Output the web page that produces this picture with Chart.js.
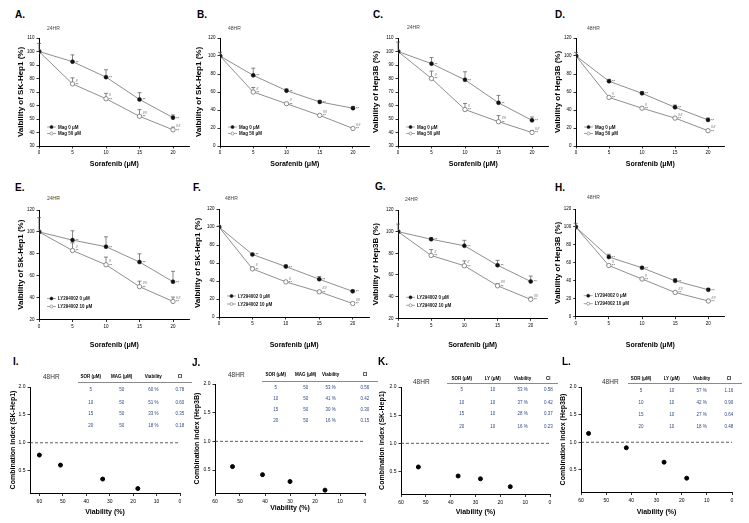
<!DOCTYPE html>
<html>
<head>
<meta charset="utf-8">
<script src="https://cdn.jsdelivr.net/npm/chart.js@4.4.0/dist/chart.umd.min.js"></script>
<style>
html, body { margin: 0; padding: 0; background: #fff; }
#fig { position: relative; width: 749px; height: 523px; overflow: hidden; font-family: "Liberation Sans", Arial, sans-serif; }
#fig canvas { position: absolute; }
.lbl { position: absolute; white-space: nowrap; }
.rule { position: absolute; height: 0.8px; background: #8a8a8a; }
</style>
</head>
<body>
<div id="fig"></div>
<script>
// Sorafenib-Dosen (x-Achse der Linienplots)
const doses = [0, 5, 10, 15, 20];
const doseTicks = [0, 5, 10, 15, 20];
const magNames = ['Mag 0 μM', 'Mag 50 μM'];
const lyNames = ['LY294002 0 μM', 'LY294002 10 μM'];
const sigMarks = ['', '#', '#', '##', '##'];

// A: SK-Hep1 24HR, Magnolol
const mag0A = [100, 92.5, 81, 64.5, 51];
const mag50A = [100, 76, 65, 52, 42];
const err0A = [6, 5, 5.5, 5, 2];
const err50A = [0, 4.5, 4, 5, 2];
// B: SK-Hep1 48HR
const mag0B = [100, 78.5, 61.5, 49, 42];
const mag50B = [100, 60, 47, 34, 19.5];
const err0B = [4, 8, 2, 1.5, 2];
const err50B = [0, 5, 1, 1, 1];
// C: Hep3B 24HR
const mag0C = [100, 91, 79, 62, 49];
const mag50C = [100, 80, 57, 48, 40];
const err0C = [7, 4.5, 6, 5.5, 2.5];
const err50C = [0, 5.5, 4.5, 4.5, 1.5];
// D: Hep3B 48HR
const mag0D = [100, 72, 58.5, 43, 29];
const mag50D = [100, 54, 42, 31, 17];
const err0D = [4, 2, 2, 2.5, 2];
const err50D = [0, 1, 1, 1, 1];
// E: SK-Hep1 24HR, LY294002
const ly0E = [100, 92.5, 86.5, 72.5, 54.5];
const ly10E = [100, 83, 70, 50, 36.5];
const err0E = [13, 8.5, 9, 7.5, 9.5];
const err10E = [0, 7, 7, 5, 4];
// F: SK-Hep1 48HR
const ly0F = [100, 69.5, 56, 42, 28.5];
const ly10F = [100, 53.5, 39, 28, 15];
const err0F = [1, 1, 2, 3, 1.5];
const err10F = [0, 2, 1, 1, 1];
// G: Hep3B 24HR
const ly0G = [100, 93, 87, 69, 54];
const ly10G = [100, 78, 68.5, 50, 37.5];
const err0G = [7, 1.5, 5, 4.5, 5];
const err10G = [0, 5.5, 4.5, 2, 2];
// H: Hep3B 48HR
const ly0H = [100, 66.5, 54.5, 40, 30];
const ly10H = [100, 57, 42, 27, 17.5];
const err0H = [4, 3, 1, 2.5, 1.5];
const err10H = [0, 1, 1, 1, 1];

// I-L: Combination index
const sorDose = [5, 10, 15, 20];
const magDose = [50, 50, 50, 50];
const lyDose = [10, 10, 10, 10];
const viabI = [60, 51, 33, 18];
const ciI = [0.78, 0.60, 0.35, 0.18];
const viabJ = [53, 41, 30, 16];
const ciJ = [0.56, 0.42, 0.30, 0.15];
const viabK = [53, 37, 28, 16];
const ciK = [0.58, 0.42, 0.37, 0.23];
const viabL = [57, 42, 27, 18];
const ciL = [1.16, 0.90, 0.64, 0.35];
const ciTextL = ['1.16', '0.90', '0.64', '0.48'];
const viabTicks = [60, 50, 40, 30, 20, 10, 0];
const ciTicks = [0.5, 1.0, 1.5, 2.0];
const ciThreshold = 1.0;

Chart.defaults.font.family = '"Liberation Sans", Arial, sans-serif';
Chart.defaults.color = '#000';

const fig = document.getElementById('fig');

function addText(txt, x, cy, size, o = {}) {
    const d = document.createElement('div');
    d.className = 'lbl';
    d.textContent = txt;
    d.style.left = x + 'px';
    d.style.top = (cy - size * 0.6) + 'px';
    d.style.fontSize = size + 'px';
    d.style.lineHeight = (size * 1.2) + 'px';
    if (o.bold) d.style.fontWeight = 'bold';
    d.style.color = o.color || '#000';
    if (o.center) d.style.transform = 'translateX(-50%)';
    fig.appendChild(d);
}

function addRule(x1, x2, y) {
    const d = document.createElement('div');
    d.className = 'rule';
    d.style.left = x1 + 'px';
    d.style.width = (x2 - x1) + 'px';
    d.style.top = y + 'px';
    fig.appendChild(d);
}

// Canvas und Padding so wählen, dass die Plotfläche an der gewünschten Stelle liegt
function layoutFor(area, yTitleX, yFont, xTitleY, xFont) {
    const yLh = yFont * 1.2, xLh = xFont * 1.2;
    const box = { x: Math.floor(yTitleX - yLh / 2 - 2), y: area.t - 8 };
    box.w = Math.ceil(area.r + 8 - box.x);
    box.h = Math.ceil(xTitleY + xLh / 2 + 3 - box.y);
    const padding = {
        left: yTitleX - yLh / 2 - box.x,
        top: area.t - box.y,
        right: box.x + box.w - area.r,
        bottom: box.y + box.h - (xTitleY + xLh / 2)
    };
    return { box, padding, yW: area.l - box.x - padding.left, xH: xTitleY + xLh / 2 - area.b };
}

function makeCanvas(box) {
    const c = document.createElement('canvas');
    c.width = box.w;
    c.height = box.h;
    c.style.left = box.x + 'px';
    c.style.top = box.y + 'px';
    c.style.width = box.w + 'px';
    c.style.height = box.h + 'px';
    fig.appendChild(c);
    return c;
}

function axis(fontSize, tickLen, pad) {
    return {
        grid: { display: true, drawOnChartArea: false, drawTicks: true, tickLength: tickLen, color: '#000', lineWidth: 0.8 },
        border: { display: true, color: '#000', width: 1 },
        ticks: { color: '#000', font: { size: fontSize }, padding: pad }
    };
}

// Fehlerbalken (nur nach oben)
const errPlugin = {
    id: 'errBars',
    beforeDatasetsDraw(chart) {
        const ctx = chart.ctx, ys = chart.scales.y;
        ctx.save();
        ctx.strokeStyle = '#555';
        ctx.lineWidth = 0.7;
        chart.data.datasets.forEach((ds, k) => {
            chart.getDatasetMeta(k).data.forEach((pt, i) => {
                const e = ds.err[i];
                if (!e) return;
                const top = ys.getPixelForValue(ds.data[i].y + e);
                ctx.beginPath();
                ctx.moveTo(pt.x, pt.y);
                ctx.lineTo(pt.x, top);
                ctx.moveTo(pt.x - 2, top);
                ctx.lineTo(pt.x + 2, top);
                ctx.stroke();
            });
        });
        ctx.restore();
    }
};

// Signifikanz-Markierungen ** und #
const notePlugin = {
    id: 'sigNotes',
    afterDatasetsDraw(chart) {
        const ctx = chart.ctx;
        ctx.save();
        ctx.fillStyle = '#333';
        ctx.font = '4px "Liberation Sans"';
        ctx.textBaseline = 'middle';
        chart.data.datasets.forEach((ds, k) => {
            chart.getDatasetMeta(k).data.forEach((pt, i) => {
                if (doses[i] === 0) return;
                ctx.fillText('**', pt.x + 3, pt.y + 0.8);
                if (k === 1) ctx.fillText(sigMarks[i], pt.x + 3, pt.y - 3.5);
            });
        });
        ctx.restore();
    }
};

function legendPlugin(offs) {
    return {
        id: 'inLegend',
        afterDraw(chart) {
            const ctx = chart.ctx, a = chart.chartArea;
            ctx.save();
            chart.data.datasets.forEach((ds, k) => {
                const y = a.bottom + offs[k], x = a.left + 8;
                ctx.strokeStyle = ds.borderColor;
                ctx.lineWidth = 0.8;
                ctx.beginPath();
                ctx.moveTo(x, y);
                ctx.lineTo(x + 9, y);
                ctx.stroke();
                ctx.beginPath();
                ctx.arc(x + 4.5, y, 1.5, 0, Math.PI * 2);
                ctx.fillStyle = ds.pointBackgroundColor;
                ctx.fill();
                ctx.strokeStyle = ds.pointBorderColor;
                ctx.lineWidth = 0.6;
                ctx.stroke();
                ctx.fillStyle = '#111';
                ctx.font = 'bold 4.5px "Liberation Sans"';
                ctx.textBaseline = 'middle';
                ctx.fillText(ds.label, x + 11, y + 0.3);
            });
            ctx.restore();
        }
    };
}

function lineChart(p) {
    const L = layoutFor(p.area, p.yTitleX, 8, p.xTitleY, 7);
    const cv = makeCanvas(L.box);
    const series = [[p.s0, p.e0], [p.s1, p.e1]];
    const sets = series.map(([s, e], k) => ({
        label: p.names[k],
        data: doses.map((d, i) => ({ x: d, y: s[i] })),
        err: e,
        borderColor: '#8f8f8f',
        borderWidth: 1,
        pointRadius: k ? 2.2 : 2,
        pointBackgroundColor: k ? '#fff' : '#111',
        pointBorderColor: k ? '#6f6f6f' : '#111',
        pointBorderWidth: k ? 0.8 : 0.5
    }));
    const xa = axis(4.5, 2.5, 2);
    const ya = axis(4.5, 2.5, 2);
    ya.ticks.stepSize = p.y[2];
    new Chart(cv, {
        type: 'line',
        data: { datasets: sets },
        options: {
            responsive: false,
            animation: false,
            events: [],
            layout: { padding: L.padding },
            plugins: { legend: { display: false }, tooltip: { enabled: false } },
            scales: {
                x: {
                    type: 'linear', min: 0, max: 22.5, ...xa,
                    afterBuildTicks: s => { s.ticks = doseTicks.map(v => ({ value: v })); },
                    afterFit: s => { s.height = L.xH; },
                    title: { display: true, text: 'Sorafenib (μM)', color: '#000', padding: 0, font: { size: 7, weight: 'bold' } }
                },
                y: {
                    min: p.y[0], max: p.y[1], ...ya,
                    afterFit: s => { s.width = L.yW; },
                    title: { display: true, text: 'Vaibility of ' + p.cell + ' (%)', color: '#000', padding: 0, font: { size: 8, weight: 'bold' } }
                }
            }
        },
        plugins: [errPlugin, notePlugin, legendPlugin(p.legend)]
    });
}

function ciChart(p) {
    const L = layoutFor(p.area, p.yTitleX, 7, p.xTitleY, 7);
    const cv = makeCanvas(L.box);
    const xa = axis(5, 3, 3);
    const ya = axis(5, 2.5, 2);
    ya.ticks.callback = v => v.toFixed(1);
    new Chart(cv, {
        type: 'scatter',
        data: {
            datasets: [
                { data: p.v.map((v, i) => ({ x: v, y: p.ci[i] })), pointRadius: 2, pointBackgroundColor: '#000', pointBorderColor: '#000' },
                { type: 'line', data: [{ x: p.xMax, y: ciThreshold }, { x: 0, y: ciThreshold }], borderColor: '#333', borderWidth: 0.8, borderDash: [3, 2], pointRadius: 0 }
            ]
        },
        options: {
            responsive: false,
            animation: false,
            events: [],
            layout: { padding: L.padding },
            plugins: { legend: { display: false }, tooltip: { enabled: false } },
            scales: {
                x: {
                    type: 'linear', min: 0, max: p.xMax, reverse: true, ...xa,
                    afterBuildTicks: s => { s.ticks = viabTicks.map(v => ({ value: v })); },
                    afterFit: s => { s.height = L.xH; },
                    title: { display: true, text: 'Viability (%)', color: '#000', padding: 0, font: { size: 7, weight: 'bold' } }
                },
                y: {
                    min: 0.1, max: 2.0, ...ya,
                    afterBuildTicks: s => { s.ticks = ciTicks.map(v => ({ value: v })); },
                    afterFit: s => { s.width = L.yW; },
                    title: { display: true, text: 'Combination index (' + p.cell + ')', color: '#000', padding: 0, font: { size: 7, weight: 'bold' } }
                }
            }
        }
    });
}

function ciTable(t) {
    t.head.forEach((h, j) => addText(h, t.cols[j], t.headY, 4.5, { bold: true, center: true }));
    addRule(t.rule[0], t.rule[1], t.rule[2]);
    sorDose.forEach((s, i) => {
        const cells = [String(s), String(t.co[i]), t.v[i] + ' %', t.ciText[i]];
        cells.forEach((c, j) => addText(c, t.cols[j], t.rows[i], 4.5, { center: true, color: '#2f4a85' }));
    });
}

const row1Leg = [-19, -12.5];
const row2Leg = [-21, -13];

lineChart({ cell: 'SK-Hep1', names: magNames, s0: mag0A, s1: mag50A, e0: err0A, e1: err50A, y: [30, 110, 10],
    area: { l: 39, t: 38, r: 189.75, b: 146 }, yTitleX: 20.7, xTitleY: 164, legend: row1Leg });
lineChart({ cell: 'SK-Hep1', names: magNames, s0: mag0B, s1: mag50B, e0: err0B, e1: err50B, y: [0, 120, 20],
    area: { l: 220, t: 38, r: 369.6, b: 146 }, yTitleX: 199, xTitleY: 164, legend: row1Leg });
lineChart({ cell: 'Hep3B', names: magNames, s0: mag0C, s1: mag50C, e0: err0C, e1: err50C, y: [30, 110, 10],
    area: { l: 398, t: 38, r: 548.75, b: 146 }, yTitleX: 376, xTitleY: 164, legend: row1Leg });
lineChart({ cell: 'Hep3B', names: magNames, s0: mag0D, s1: mag50D, e0: err0D, e1: err50D, y: [0, 120, 20],
    area: { l: 576, t: 38, r: 724.5, b: 146 }, yTitleX: 558, xTitleY: 164, legend: row1Leg });

lineChart({ cell: 'SK-Hep1', names: lyNames, s0: ly0E, s1: ly10E, e0: err0E, e1: err10E, y: [20, 120, 20],
    area: { l: 39, t: 210, r: 189.75, b: 319.5 }, yTitleX: 20.7, xTitleY: 345, legend: row2Leg });
lineChart({ cell: 'SK-Hep1', names: lyNames, s0: ly0F, s1: ly10F, e0: err0F, e1: err10F, y: [0, 120, 20],
    area: { l: 219, t: 209, r: 369.4, b: 317 }, yTitleX: 198, xTitleY: 345, legend: row2Leg });
lineChart({ cell: 'Hep3B', names: lyNames, s0: ly0G, s1: ly10G, e0: err0G, e1: err10G, y: [20, 120, 20],
    area: { l: 398, t: 210, r: 547.3, b: 318.3 }, yTitleX: 376, xTitleY: 345, legend: row2Leg });
lineChart({ cell: 'Hep3B', names: lyNames, s0: ly0H, s1: ly10H, e0: err0H, e1: err10H, y: [0, 120, 20],
    area: { l: 575.7, t: 209, r: 724.9, b: 316.7 }, yTitleX: 558, xTitleY: 345, legend: row2Leg });

ciChart({ cell: 'SK-Hep1', v: viabI, ci: ciI, xMax: 64, area: { l: 30, t: 387, r: 180, b: 493 }, yTitleX: 12.7, xTitleY: 512 });
ciChart({ cell: 'Hep3B', v: viabJ, ci: ciJ, xMax: 60, area: { l: 215, t: 384, r: 365, b: 493 }, yTitleX: 196.7, xTitleY: 508 });
ciChart({ cell: 'SK-Hep1', v: viabK, ci: ciK, xMax: 60, area: { l: 401, t: 387, r: 550, b: 494 }, yTitleX: 381.7, xTitleY: 512 });
ciChart({ cell: 'Hep3B', v: viabL, ci: ciL, xMax: 60, area: { l: 581, t: 387, r: 732, b: 492 }, yTitleX: 563.3, xTitleY: 512 });

ciTable({ head: ['SOR (μM)', 'MAG (μM)', 'Viability', 'CI'], co: magDose, v: viabI, ciText: ciI.map(c => c.toFixed(2)),
    cols: [90.7, 121.7, 153.3, 180], headY: 377, rows: [390, 402.7, 414, 426], rule: [78, 192, 382] });
ciTable({ head: ['SOR (μM)', 'MAG (μM)', 'Viability', 'CI'], co: magDose, v: viabJ, ciText: ciJ.map(c => c.toFixed(2)),
    cols: [275.7, 305.7, 330.7, 365], headY: 375, rows: [387.3, 398.3, 410, 420.7], rule: [262, 378, 381] });
ciTable({ head: ['SOR (μM)', 'LY (μM)', 'Viability', 'CI'], co: lyDose, v: viabK, ciText: ciK.map(c => c.toFixed(2)),
    cols: [461.7, 492.7, 522.7, 548.3], headY: 378.3, rows: [390, 402.7, 414, 426.7], rule: [447, 558, 383] });
ciTable({ head: ['SOR (μM)', 'LY (μM)', 'Viability', 'CI'], co: lyDose, v: viabL, ciText: ciTextL,
    cols: [641, 671.7, 701.7, 729], headY: 378.3, rows: [390.7, 402.7, 415, 426.7], rule: [628, 742, 383] });

// Panelbuchstaben und Zeitpunkte
[['A.', 15, 14.5], ['B.', 197, 15], ['C.', 373, 14.7], ['D.', 555, 15],
 ['E.', 15, 188], ['F.', 193, 188], ['G.', 375, 187], ['H.', 555, 188],
 ['I.', 13, 362], ['J.', 192, 363], ['K.', 378, 362], ['L.', 562, 362]]
    .forEach(([t, x, y]) => addText(t, x, y, 10, { bold: true }));

[['24HR', 47, 28], ['48HR', 228, 28], ['24HR', 407, 26.5], ['48HR', 587, 28],
 ['24HR', 47, 198], ['48HR', 225, 198], ['24HR', 405, 199], ['48HR', 587, 197]]
    .forEach(([t, x, y]) => addText(t, x, y, 5, { color: '#444' }));

[['48HR', 43, 377], ['48HR', 228, 375], ['48HR', 413, 382], ['48HR', 602, 382]]
    .forEach(([t, x, y]) => addText(t, x, y, 6.5, { color: '#333' }));
</script>
</body>
</html>
